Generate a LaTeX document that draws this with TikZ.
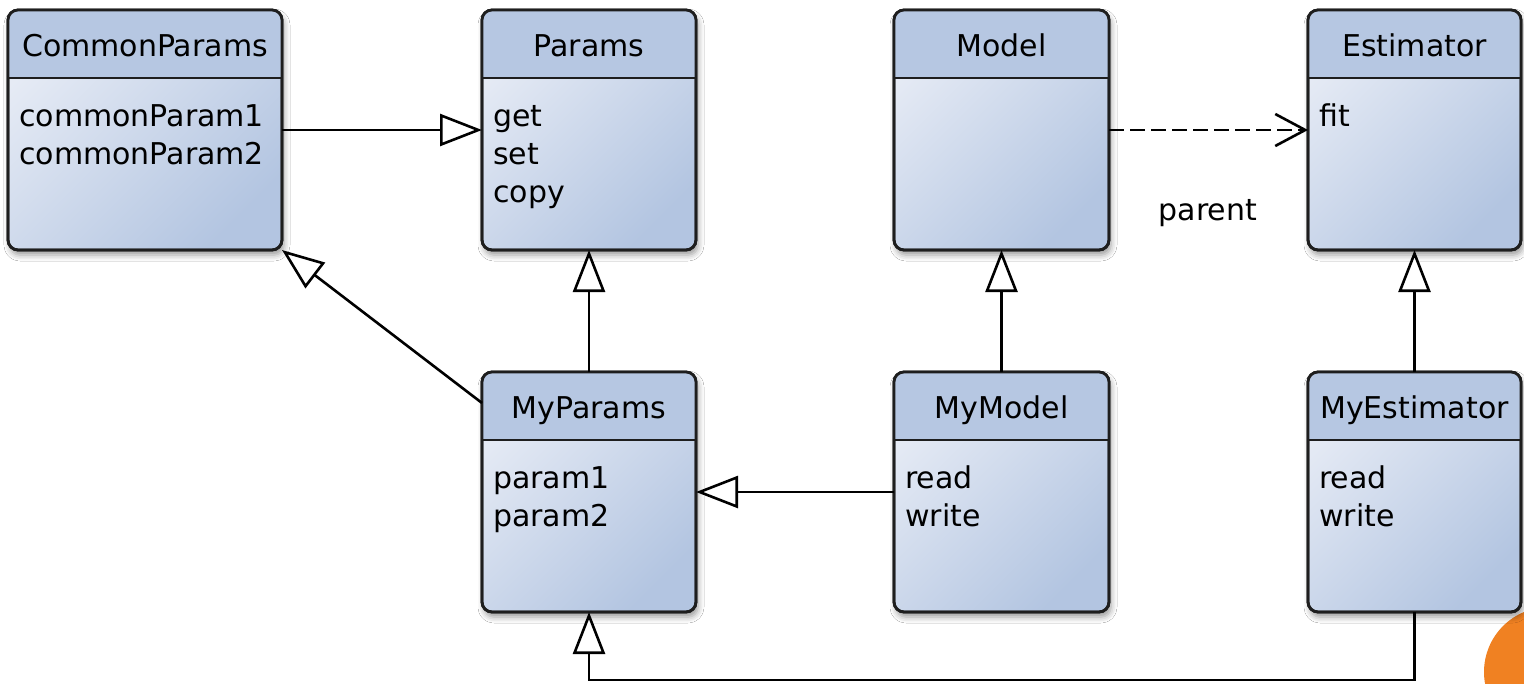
\documentclass[tikz,border=0pt]{standalone}
\usepackage{fontspec}
\newfontfamily\umlfont{DejaVu Sans}
\usetikzlibrary{arrows.meta,shadows.blur}

\definecolor{edgec}{HTML}{1E1E1E}
\definecolor{hdrc}{HTML}{B6C7E2}
\definecolor{bodylight}{HTML}{E6EBF5}
\definecolor{bodydark}{HTML}{B3C5E1}
\definecolor{accent}{HTML}{F08122}

\tikzset{
  classbox/.style={draw=edgec, line width=2.8pt, rounded corners=10pt,
    minimum height=240pt, anchor=north west, inner sep=0pt, outer sep=0pt,
    left color=bodylight, right color=bodydark, shading angle=45,
    blur shadow={shadow xshift=2pt, shadow yshift=-5pt,
      shadow blur radius=6pt, shadow opacity=40}},
  edgeline/.style={draw=edgec, line width=2.8pt},
  titletext/.style={font=\umlfont\fontsize{30}{36}\selectfont, text=black,
    anchor=base, inner sep=0pt},
  bodytext/.style={font=\umlfont\fontsize{30}{36}\selectfont, text=black,
    anchor=base west, inner sep=0pt},
  gen/.style={draw=black, line width=2.6pt,
    -{Triangle[open, fill=white, length=42pt, width=32pt]}},
  dep/.style={draw=black, line width=2.6pt, dash pattern=on 15pt off 6pt,
    -{Straight Barb[length=30pt, width=32pt]}},
}

% class box: name, left x, top y, width, title
\newcommand{\umlbox}[5]{%
  \node[classbox, minimum width=#4pt] (#1) at (#2,#3) {};
  \begin{scope}
    \clip[rounded corners=10pt] (#1.north west) rectangle (#1.south east);
    \fill[hdrc] (#1.north west) rectangle ([yshift=-68pt]#1.north east);
  \end{scope}
  \draw[edgeline] ([yshift=-68pt]#1.north west) -- ([yshift=-68pt]#1.north east);
  \draw[edgeline, rounded corners=10pt] (#1.north west) rectangle (#1.south east);
  \node[titletext] (#1-title) at ([yshift=-46pt]#1.north) {#5};
}
% one line of the member list: box, line number, text
\newcommand{\umlline}[3]{%
  \node[bodytext] (#1-l#2) at ([xshift=11pt,yshift={-116pt-38pt*(#2-1)}]#1.north west) {#3};
}

\begin{document}
\begin{tikzpicture}[x=1pt, y=-1pt]
  \useasboundingbox (0,0) rectangle (1524,683);
  \fill[white] (0,0) rectangle (1524,683);

  % corner decoration
  \begin{scope}
    \clip (0,0) rectangle (1524,683);
    \fill[accent] (1549,672) circle (65pt);
  \end{scope}

  % classes
  \umlbox{commonparams}{8}{10}{274}{CommonParams}
  \umlline{commonparams}{1}{commonParam1}
  \umlline{commonparams}{2}{commonParam2}

  \umlbox{params}{482}{10}{214}{Params}
  \umlline{params}{1}{get}
  \umlline{params}{2}{set}
  \umlline{params}{3}{copy}

  \umlbox{model}{894}{10}{215}{Model}

  \umlbox{estimator}{1308}{10}{213}{Estimator}
  \umlline{estimator}{1}{fit}

  \umlbox{myparams}{482}{372}{214}{MyParams}
  \umlline{myparams}{1}{param1}
  \umlline{myparams}{2}{param2}

  \umlbox{mymodel}{894}{372}{215}{MyModel}
  \umlline{mymodel}{1}{read}
  \umlline{mymodel}{2}{write}

  \umlbox{myestimator}{1308}{372}{213}{MyEstimator}
  \umlline{myestimator}{1}{read}
  \umlline{myestimator}{2}{write}

  % relations
  \draw[gen] (commonparams.east) -- (params.west);
  \draw[dep] (model.east) -- (estimator.west);
  \node[bodytext, anchor=base] (parentlabel) at (1208,220) {parent};
  \draw[gen] (myparams.north) -- (params.south);
  \draw[gen] ([yshift=-31pt]myparams.north west) -- (commonparams.south east);
  \draw[gen] (mymodel.north) -- (model.south);
  \draw[gen] (myestimator.north) -- (estimator.south);
  \draw[gen] (mymodel.west) -- (myparams.east);
  \draw[gen] (myestimator.south) -- ++(0,68) -| (myparams.south);
\end{tikzpicture}
\end{document}
